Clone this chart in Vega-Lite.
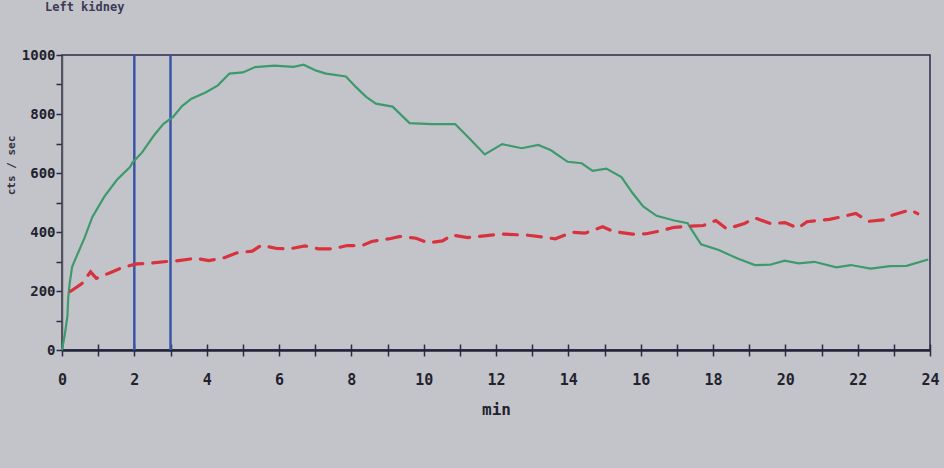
{
  "$schema": "https://vega.github.io/schema/vega-lite/v6.json",
  "width": 868,
  "height": 295,
  "autosize": {"type": "none"},
  "padding": {"left": 62, "top": 55, "right": 14, "bottom": 118},
  "background": "#c3c4c9",
  "config": {
    "view": {"stroke": "#2b2b48", "strokeWidth": 1.5},
    "font": "DejaVu Sans Mono"
  },
  "title": {"text": "Left kidney", "anchor": "start", "offset": 34, "dx": 40, "fontSize": 12, "font": "DejaVu Sans Mono", "fontWeight": "bold", "color": "#3a3a55"},
  "datasets": {
    "curves": [
      {"t": 0, "v": 0, "series": "kidney"},
      {"t": 0.08, "v": 54, "series": "kidney"},
      {"t": 0.15, "v": 116, "series": "kidney"},
      {"t": 0.17, "v": 173, "series": "kidney"},
      {"t": 0.21, "v": 224, "series": "kidney"},
      {"t": 0.28, "v": 282, "series": "kidney"},
      {"t": 0.39, "v": 314, "series": "kidney"},
      {"t": 0.62, "v": 379, "series": "kidney"},
      {"t": 0.84, "v": 451, "series": "kidney"},
      {"t": 1.17, "v": 520, "series": "kidney"},
      {"t": 1.52, "v": 577, "series": "kidney"},
      {"t": 1.88, "v": 620, "series": "kidney"},
      {"t": 1.95, "v": 636, "series": "kidney"},
      {"t": 2.21, "v": 669, "series": "kidney"},
      {"t": 2.54, "v": 727, "series": "kidney"},
      {"t": 2.8, "v": 766, "series": "kidney"},
      {"t": 3.07, "v": 790, "series": "kidney"},
      {"t": 3.32, "v": 827, "series": "kidney"},
      {"t": 3.58, "v": 852, "series": "kidney"},
      {"t": 3.97, "v": 873, "series": "kidney"},
      {"t": 4.31, "v": 897, "series": "kidney"},
      {"t": 4.63, "v": 937, "series": "kidney"},
      {"t": 5.0, "v": 941, "series": "kidney"},
      {"t": 5.34, "v": 959, "series": "kidney"},
      {"t": 5.87, "v": 964, "series": "kidney"},
      {"t": 6.4, "v": 960, "series": "kidney"},
      {"t": 6.68, "v": 967, "series": "kidney"},
      {"t": 7.03, "v": 947, "series": "kidney"},
      {"t": 7.3, "v": 937, "series": "kidney"},
      {"t": 7.85, "v": 927, "series": "kidney"},
      {"t": 8.13, "v": 891, "series": "kidney"},
      {"t": 8.41, "v": 858, "series": "kidney"},
      {"t": 8.68, "v": 835, "series": "kidney"},
      {"t": 9.14, "v": 825, "series": "kidney"},
      {"t": 9.61, "v": 769, "series": "kidney"},
      {"t": 10.23, "v": 766, "series": "kidney"},
      {"t": 10.87, "v": 766, "series": "kidney"},
      {"t": 11.26, "v": 718, "series": "kidney"},
      {"t": 11.69, "v": 663, "series": "kidney"},
      {"t": 12.17, "v": 698, "series": "kidney"},
      {"t": 12.71, "v": 684, "series": "kidney"},
      {"t": 13.17, "v": 695, "series": "kidney"},
      {"t": 13.52, "v": 677, "series": "kidney"},
      {"t": 13.98, "v": 638, "series": "kidney"},
      {"t": 14.37, "v": 633, "series": "kidney"},
      {"t": 14.67, "v": 607, "series": "kidney"},
      {"t": 15.05, "v": 615, "series": "kidney"},
      {"t": 15.47, "v": 586, "series": "kidney"},
      {"t": 15.77, "v": 533, "series": "kidney"},
      {"t": 16.07, "v": 487, "series": "kidney"},
      {"t": 16.44, "v": 455, "series": "kidney"},
      {"t": 16.93, "v": 439, "series": "kidney"},
      {"t": 17.3, "v": 430, "series": "kidney"},
      {"t": 17.38, "v": 413, "series": "kidney"},
      {"t": 17.67, "v": 358, "series": "kidney"},
      {"t": 18.16, "v": 339, "series": "kidney"},
      {"t": 18.68, "v": 310, "series": "kidney"},
      {"t": 19.16, "v": 288, "series": "kidney"},
      {"t": 19.58, "v": 289, "series": "kidney"},
      {"t": 19.98, "v": 303, "series": "kidney"},
      {"t": 20.37, "v": 294, "series": "kidney"},
      {"t": 20.8, "v": 299, "series": "kidney"},
      {"t": 21.41, "v": 280, "series": "kidney"},
      {"t": 21.81, "v": 288, "series": "kidney"},
      {"t": 22.36, "v": 276, "series": "kidney"},
      {"t": 22.89, "v": 284, "series": "kidney"},
      {"t": 23.35, "v": 285, "series": "kidney"},
      {"t": 23.95, "v": 307, "series": "kidney"},
      {"t": 0.24, "v": 199, "series": "background"},
      {"t": 0.55, "v": 225, "series": "background"},
      {"t": 0.79, "v": 265, "series": "background"},
      {"t": 0.95, "v": 243, "series": "background"},
      {"t": 1.35, "v": 263, "series": "background"},
      {"t": 1.67, "v": 280, "series": "background"},
      {"t": 2.07, "v": 292, "series": "background"},
      {"t": 2.43, "v": 294, "series": "background"},
      {"t": 2.89, "v": 300, "series": "background"},
      {"t": 3.16, "v": 302, "series": "background"},
      {"t": 3.7, "v": 311, "series": "background"},
      {"t": 4.06, "v": 303, "series": "background"},
      {"t": 4.49, "v": 313, "series": "background"},
      {"t": 4.82, "v": 329, "series": "background"},
      {"t": 5.26, "v": 335, "series": "background"},
      {"t": 5.51, "v": 355, "series": "background"},
      {"t": 5.94, "v": 344, "series": "background"},
      {"t": 6.3, "v": 343, "series": "background"},
      {"t": 6.72, "v": 353, "series": "background"},
      {"t": 7.09, "v": 343, "series": "background"},
      {"t": 7.51, "v": 343, "series": "background"},
      {"t": 7.88, "v": 354, "series": "background"},
      {"t": 8.3, "v": 354, "series": "background"},
      {"t": 8.56, "v": 368, "series": "background"},
      {"t": 9.09, "v": 378, "series": "background"},
      {"t": 9.35, "v": 385, "series": "background"},
      {"t": 9.79, "v": 379, "series": "background"},
      {"t": 10.12, "v": 363, "series": "background"},
      {"t": 10.52, "v": 370, "series": "background"},
      {"t": 10.79, "v": 390, "series": "background"},
      {"t": 11.22, "v": 381, "series": "background"},
      {"t": 12.14, "v": 393, "series": "background"},
      {"t": 12.89, "v": 389, "series": "background"},
      {"t": 13.64, "v": 377, "series": "background"},
      {"t": 14.1, "v": 399, "series": "background"},
      {"t": 14.46, "v": 396, "series": "background"},
      {"t": 14.95, "v": 418, "series": "background"},
      {"t": 15.24, "v": 402, "series": "background"},
      {"t": 15.77, "v": 393, "series": "background"},
      {"t": 16.16, "v": 394, "series": "background"},
      {"t": 16.58, "v": 405, "series": "background"},
      {"t": 16.93, "v": 416, "series": "background"},
      {"t": 17.39, "v": 420, "series": "background"},
      {"t": 17.73, "v": 422, "series": "background"},
      {"t": 18.08, "v": 439, "series": "background"},
      {"t": 18.38, "v": 410, "series": "background"},
      {"t": 18.87, "v": 429, "series": "background"},
      {"t": 19.17, "v": 447, "series": "background"},
      {"t": 19.6, "v": 428, "series": "background"},
      {"t": 19.99, "v": 432, "series": "background"},
      {"t": 20.35, "v": 413, "series": "background"},
      {"t": 20.6, "v": 435, "series": "background"},
      {"t": 21.22, "v": 443, "series": "background"},
      {"t": 21.54, "v": 451, "series": "background"},
      {"t": 21.95, "v": 463, "series": "background"},
      {"t": 22.29, "v": 436, "series": "background"},
      {"t": 22.72, "v": 441, "series": "background"},
      {"t": 22.93, "v": 456, "series": "background"},
      {"t": 23.46, "v": 475, "series": "background"},
      {"t": 23.66, "v": 462, "series": "background"}
    ],
    "markers": [{"t": 2}, {"t": 3}]
  },
  "layer": [
    {
      "data": {"name": "markers"},
      "mark": {"type": "rule", "color": "#3a56a8", "strokeWidth": 2.5},
      "encoding": {
        "x": {"field": "t", "type": "quantitative", "scale": {"domain": [0, 24], "nice": false},
          "axis": {"orient": "bottom", "values": [0,1,2,3,4,5,6,7,8,9,10,11,12,13,14,15,16,17,18,19,20,21,22,23,24], "labels": false, "title": null, "domain": false, "grid": false, "tickSize": -6, "tickColor": "#2b2b48", "tickWidth": 1.5}}
      }
    },
    {
      "data": {"name": "curves"},
      "transform": [{"filter": "datum.series == 'kidney'"}],
      "mark": {"type": "line", "color": "#3c9a6c", "strokeWidth": 2.2, "interpolate": "linear"},
      "encoding": {
        "x": {"field": "t", "type": "quantitative", "scale": {"domain": [0, 24], "nice": false},
          "axis": {"orient": "bottom", "values": [0,1,2,3,4,5,6,7,8,9,10,11,12,13,14,15,16,17,18,19,20,21,22,23,24],
            "labelExpr": "datum.value % 2 == 0 ? datum.label : ''", "title": "min", "grid": false,
            "domainColor": "#23233d", "domainWidth": 2.5, "tickColor": "#2b2b48", "tickWidth": 1.5, "tickSize": 6,
            "labelFont": "DejaVu Sans Mono", "labelFontSize": 15, "labelFontWeight": "bold", "labelColor": "#22222e", "labelPadding": 16, "labelFlush": false,
            "titleFont": "DejaVu Sans Mono", "titleFontSize": 16, "titleFontWeight": "bold", "titleColor": "#22222e", "titlePadding": 14}},
        "y": {"field": "v", "type": "quantitative", "scale": {"domain": [0, 1000], "nice": false},
          "axis": {"values": [0,100,200,300,400,500,600,700,800,900,1000],
            "labelExpr": "datum.value % 200 == 0 ? datum.label : ''", "format": "d", "title": "cts / sec", "grid": false,
            "domainColor": "#55555f", "domainWidth": 1.5, "tickColor": "#2b2b48", "tickWidth": 1.5, "tickSize": 6,
            "labelFont": "DejaVu Sans Mono", "labelFontSize": 14, "labelFontWeight": "bold", "labelColor": "#22222e", "labelPadding": 1,
            "titleFont": "DejaVu Sans Mono", "titleFontSize": 11, "titleFontWeight": "bold", "titleColor": "#33333f", "titleX": -46, "titleY": 110}}
      }
    },
    {
      "data": {"name": "curves"},
      "transform": [{"filter": "datum.series == 'background'"}],
      "mark": {"type": "line", "color": "#d8323e", "strokeWidth": 3.2, "strokeDash": [14, 10], "strokeCap": "round"},
      "encoding": {
        "x": {"field": "t", "type": "quantitative", "axis": null},
        "y": {"field": "v", "type": "quantitative", "axis": null}
      }
    }
  ],
  "resolve": {"axis": {"x": "independent", "y": "independent"}}
}
